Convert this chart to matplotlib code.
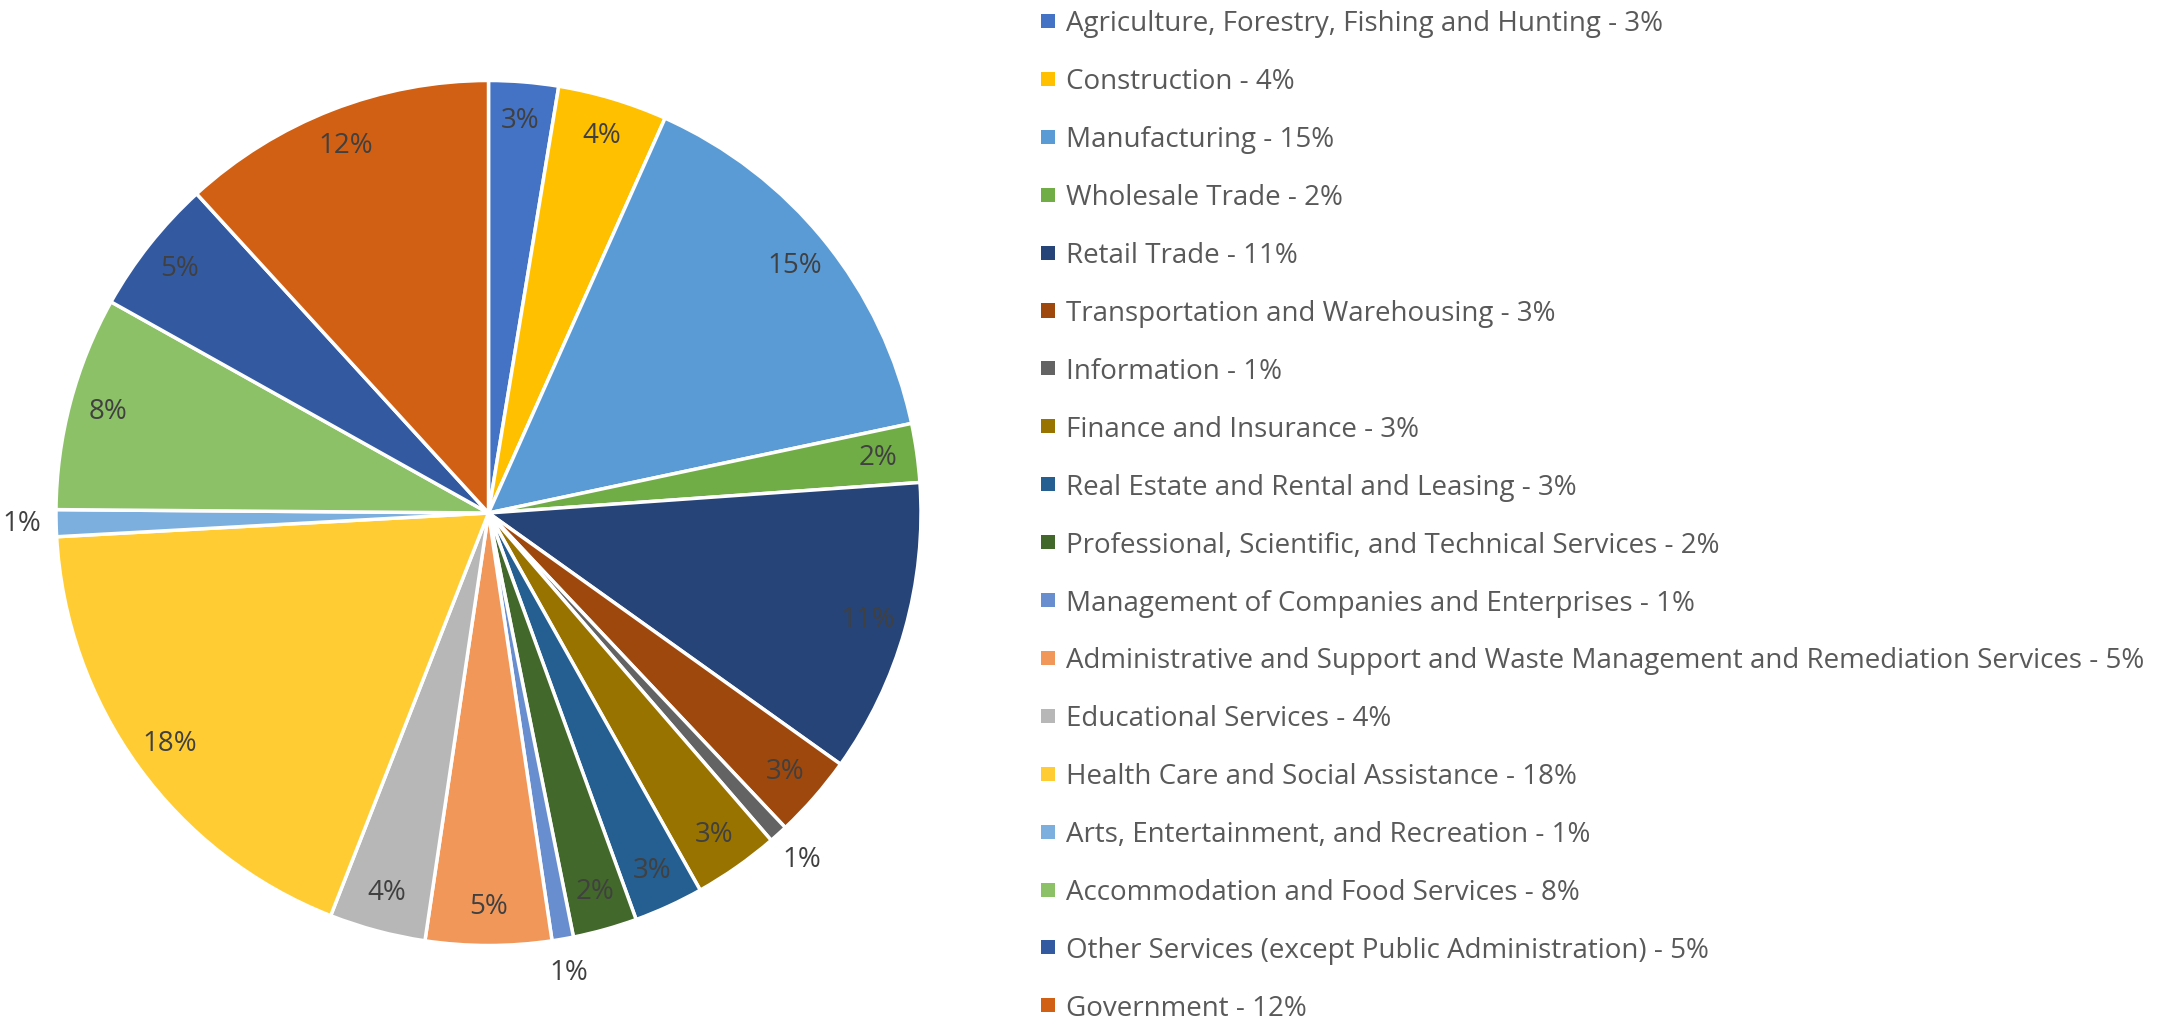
import matplotlib
matplotlib.use("Agg")
import matplotlib.pyplot as plt
import numpy as np
from matplotlib.patches import Rectangle

categories = [
    "Agriculture, Forestry, Fishing and Hunting",
    "Construction",
    "Manufacturing",
    "Wholesale Trade",
    "Retail Trade",
    "Transportation and Warehousing",
    "Information",
    "Finance and Insurance",
    "Real Estate and Rental and Leasing",
    "Professional, Scientific, and Technical Services",
    "Management of Companies and Enterprises",
    "Administrative and Support and Waste Management and Remediation Services",
    "Educational Services",
    "Health Care and Social Assistance",
    "Arts, Entertainment, and Recreation",
    "Accommodation and Food Services",
    "Other Services (except Public Administration)",
    "Government",
]
shares = [2.6, 4.1, 15.0, 2.2, 11.0, 3.1, 0.7, 3.2, 2.6, 2.4, 0.8, 4.7, 3.6, 18.2, 1.0, 8.0, 5.1, 11.8]
colors = ["#4472C4", "#FFC000", "#5B9BD5", "#70AD47", "#264478", "#9E480E",
          "#636363", "#997300", "#255E91", "#43682B", "#698ED0", "#F1975A",
          "#B7B7B7", "#FFCD33", "#7CAFDD", "#8CC168", "#335AA1", "#D16014"]
outside_labels = ["Information", "Management of Companies and Enterprises",
                  "Arts, Entertainment, and Recreation"]

W, H = 2182, 1022
DPI = 100
FONT = "Open Sans"
FS = 20

fig = plt.figure(figsize=(W / DPI, H / DPI), dpi=DPI)
fig.patch.set_facecolor("white")

cx, cy, r = 488.5, 513.0, 432.5
ax = fig.add_axes([(cx - r) / W, (H - cy - r) / H, 2 * r / W, 2 * r / H])

total = sum(shares)
wedges, texts, autotexts = ax.pie(
    shares, colors=colors, startangle=90, counterclock=False, radius=1,
    autopct=lambda p: f"{round(p):.0f}%", pctdistance=0.91,
    wedgeprops=dict(edgecolor="white", linewidth=2.5),
    textprops=dict(fontsize=FS, color="#404040", family=FONT),
)
ax.set_xlim(-1, 1)
ax.set_ylim(-1, 1)
ax.set_aspect("equal")
ax.axis("off")
for w, t, cat in zip(wedges, autotexts, categories):
    if cat in outside_labels:
        ang = np.deg2rad((w.theta1 + w.theta2) / 2)
        t.set_position((1.08 * np.cos(ang), 1.08 * np.sin(ang)))
    t.set_clip_on(False)

# legend
x_marker, x_text = 1041, 1066
y0, pitch = 21.0, 57.9
msz = 14
for i, (cat, val, col) in enumerate(zip(categories, shares, colors)):
    yc = y0 + i * pitch
    fig.patches.append(Rectangle(((x_marker) / W, (H - yc - msz / 2) / H), msz / W, msz / H,
                                 transform=fig.transFigure, facecolor=col, edgecolor="none"))
    pct = round(100 * val / total)
    fig.text(x_text / W, (H - yc - 10.5) / H, f"{cat} - {pct}%", fontsize=FS,
             color="#595959", family=FONT, va="baseline", ha="left")

fig.savefig("out.png", dpi=DPI, facecolor="white")
